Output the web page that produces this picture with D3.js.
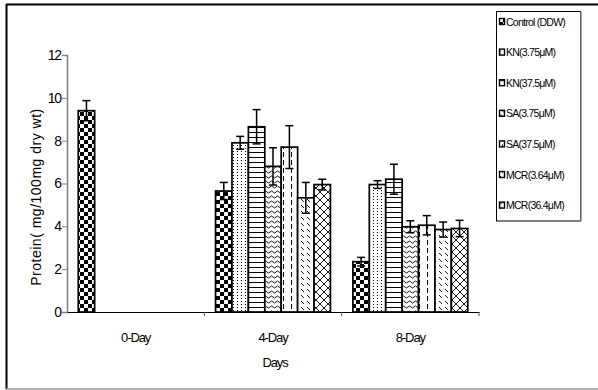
<!DOCTYPE html>
<html>
<head>
<meta charset="utf-8">
<script src="https://cdn.jsdelivr.net/npm/d3@7/dist/d3.min.js"></script>
<style>
  html, body { margin: 0; padding: 0; background: #fff; }
  svg { display: block; font-family: "Liberation Sans", Arial, sans-serif; }
</style>
</head>
<body>
<svg id="chart" width="598" height="390"></svg>
<script>
// Protein content by sampling day and treatment
const days = ["0-Day", "4-Day", "8-Day"];
const seriesNames = ["Control (DDW)", "KN(3.75μM)", "KN(37.5μM)", "SA(3.75μM)", "SA(37.5μM)", "MCR(3.64μM)", "MCR(36.4μM)"];

const controlVals = [9.4, 5.65, 2.35];
const controlErr  = [0.47, 0.4, 0.2];
const kn375Vals   = [null, 7.9, 5.95];
const kn375Err    = [null, 0.3, 0.18];
const kn3750Vals  = [null, 8.65, 6.2];
const kn3750Err   = [null, 0.8, 0.7];
const sa375Vals   = [null, 6.8, 3.98];
const sa375Err    = [null, 0.87, 0.28];
const sa3750Vals  = [null, 7.7, 4.05];
const sa3750Err   = [null, 1.0, 0.45];
const mcr364Vals  = [null, 5.33, 3.85];
const mcr364Err   = [null, 0.72, 0.35];
const mcr3640Vals = [null, 5.95, 3.9];
const mcr3640Err  = [null, 0.25, 0.38];

const yTicks = [0, 2, 4, 6, 8, 10, 12];

const valueSets = [controlVals, kn375Vals, kn3750Vals, sa375Vals, sa3750Vals, mcr364Vals, mcr3640Vals];
const errorSets = [controlErr, kn375Err, kn3750Err, sa375Err, sa3750Err, mcr364Err, mcr3640Err];
const patternIds = ["p-check", "p-dots", "p-hlines", "p-wave", "p-vdash", "p-diagdash", "p-cross"];

const rows = [];
days.forEach((d, di) => {
  seriesNames.forEach((s, si) => {
    const v = valueSets[si][di];
    if (v != null) rows.push({ day: d, series: s, si, value: v, err: errorSets[si][di] });
  });
});

const svg = d3.select("#chart");

// ---- fill patterns ----
const defs = svg.append("defs");
function pat(id, w, h) {
  const p = defs.append("pattern").attr("id", id)
    .attr("patternUnits", "userSpaceOnUse").attr("width", w).attr("height", h);
  p.append("rect").attr("width", w).attr("height", h).attr("fill", "#fff");
  return p;
}
// checkerboard
{
  const p = pat("p-check", 8, 8);
  p.append("rect").attr("x", 0).attr("y", 0).attr("width", 4).attr("height", 4).attr("fill", "#000");
  p.append("rect").attr("x", 4).attr("y", 4).attr("width", 4).attr("height", 4).attr("fill", "#000");
}
// dotted vertical columns
{
  const p = pat("p-dots", 4, 3);
  p.append("rect").attr("x", 1).attr("y", 1).attr("width", 1).attr("height", 1).attr("fill", "#000");
}
// horizontal lines
{
  const p = pat("p-hlines", 6, 5);
  p.append("rect").attr("x", 0).attr("y", 2).attr("width", 6).attr("height", 1).attr("fill", "#000");
}
// wavy lines
{
  const p = pat("p-wave", 6, 5);
  p.append("path").attr("d", "M0,2 L1.5,1 L3,2 L4.5,3 L6,2").attr("fill", "none")
    .attr("stroke", "#000").attr("stroke-width", 0.9);
}
// vertical dashed lines
{
  const p = pat("p-vdash", 8, 8);
  p.append("rect").attr("x", 3).attr("y", 0).attr("width", 1).attr("height", 5).attr("fill", "#000");
}
// short diagonal dashes
{
  const p = pat("p-diagdash", 6, 6);
  p.append("path").attr("d", "M1,1 L4,4").attr("stroke", "#000").attr("stroke-width", 0.9);
}
// diagonal crosshatch
{
  const p = pat("p-cross", 8, 8);
  p.append("path").attr("d", "M0,0 L8,8 M8,0 L0,8").attr("stroke", "#000").attr("stroke-width", 0.9);
}

// ---- outer frame ----
svg.append("line").attr("x1", 6).attr("x2", 598).attr("y1", 4.5).attr("y2", 4.5)
  .attr("stroke", "#000").attr("stroke-width", 2);
svg.append("line").attr("x1", 6.5).attr("x2", 6.5).attr("y1", 4).attr("y2", 389)
  .attr("stroke", "#000").attr("stroke-width", 2);
svg.append("line").attr("x1", 6).attr("x2", 598).attr("y1", 389).attr("y2", 389)
  .attr("stroke", "#999").attr("stroke-width", 1.5);

// ---- scales ----
const plot = { left: 67, right: 479, top: 55, bottom: 312 };
const y = d3.scaleLinear().domain([0, 12]).range([plot.bottom, plot.top]);
const x0 = d3.scaleBand().domain(days).range([plot.left, plot.right]).paddingInner(0).paddingOuter(0);
const x1 = d3.scaleBand().domain(seriesNames).range([0, x0.bandwidth()]).paddingInner(0).paddingOuter(0.685);

// ---- y axis ----
const yAxis = svg.append("g").attr("transform", `translate(${plot.left},0)`)
  .call(d3.axisLeft(y).tickValues(yTicks).tickSize(5).tickPadding(1).tickFormat(d3.format("d")));
yAxis.select(".domain").attr("stroke", "#808080").attr("stroke-width", 1.5);
yAxis.selectAll(".tick line").attr("stroke", "#808080");
yAxis.selectAll(".tick text").attr("fill", "#000").style("font-size", "14px").style("letter-spacing", "-1.1px")
  .style("font-family", "'Liberation Sans', Arial, sans-serif");

// ---- x axis ----
const xAxis = svg.append("g").attr("transform", `translate(0,${plot.bottom})`)
  .call(d3.axisBottom(x0).tickValues([]).tickSizeOuter(0));
xAxis.select(".domain").attr("stroke", "#000").attr("stroke-width", 1.2);
// group boundary ticks
svg.append("g").selectAll("line").data(days).join("line")
  .attr("x1", d => x0(d) + x0.bandwidth()).attr("x2", d => x0(d) + x0.bandwidth())
  .attr("y1", plot.bottom).attr("y2", plot.bottom + 4)
  .attr("stroke", "#555").attr("stroke-width", 1);
svg.append("g").selectAll("text").data(days).join("text")
  .attr("x", d => x0(d) + x0.bandwidth() / 2).attr("y", 342)
  .attr("text-anchor", "middle").style("font-size", "13px").style("letter-spacing", "-1.1px")
  .text(d => d);

// ---- bars ----
const bars = svg.append("g");
bars.selectAll("rect").data(rows).join("rect")
  .attr("x", d => x0(d.day) + x1(d.series))
  .attr("y", d => y(d.value))
  .attr("width", x1.bandwidth())
  .attr("height", d => y(0) - y(d.value))
  .attr("fill", d => `url(#${patternIds[d.si]})`)
  .attr("stroke", "#000").attr("stroke-width", 1.7);

// ---- error bars ----
const eb = svg.append("g").attr("stroke", "#000").attr("stroke-width", 1.5);
rows.forEach(d => {
  const cx = x0(d.day) + x1(d.series) + x1.bandwidth() / 2;
  const yt = y(d.value + d.err), yb = y(d.value - d.err);
  eb.append("line").attr("x1", cx).attr("x2", cx).attr("y1", yt).attr("y2", yb);
  eb.append("line").attr("x1", cx - 4).attr("x2", cx + 4).attr("y1", yt).attr("y2", yt);
  eb.append("line").attr("x1", cx - 4).attr("x2", cx + 4).attr("y1", yb).attr("y2", yb);
});

// ---- axis titles ----
svg.append("text").attr("x", (plot.left + plot.right) / 2 + 2).attr("y", 367)
  .attr("text-anchor", "middle").style("font-size", "13px").style("letter-spacing", "-1.1px")
  .text("Days");
svg.append("text").attr("transform", "translate(41,197) rotate(-90)")
  .attr("text-anchor", "middle").style("font-size", "14px").style("letter-spacing", "0.5px")
  .text("Protein( mg/100mg dry wt)");

// ---- legend ----
const lg = svg.append("g");
lg.append("rect").attr("x", 496.5).attr("y", 11.5).attr("width", 84).attr("height", 209.5)
  .attr("fill", "#fff").attr("stroke", "#000").attr("stroke-width", 1);
lg.append("line").attr("x1", 581).attr("x2", 581).attr("y1", 12).attr("y2", 221)
  .attr("stroke", "#888").attr("stroke-width", 1.5);
const item = lg.selectAll("g.item").data(seriesNames).join("g").attr("class", "item")
  .attr("transform", (d, i) => `translate(499,${22 + i * 30.6})`);
item.append("rect").attr("x", 0.5).attr("y", -3.5).attr("width", 5).attr("height", 6)
  .attr("fill", (d, i) => `url(#${patternIds[i]})`).attr("stroke", "#000").attr("stroke-width", 1.4);
item.append("text").attr("x", 7).attr("y", 3.5).style("font-size", "10.5px").style("letter-spacing", "-0.75px")
  .text(d => d);
</script>
</body>
</html>
